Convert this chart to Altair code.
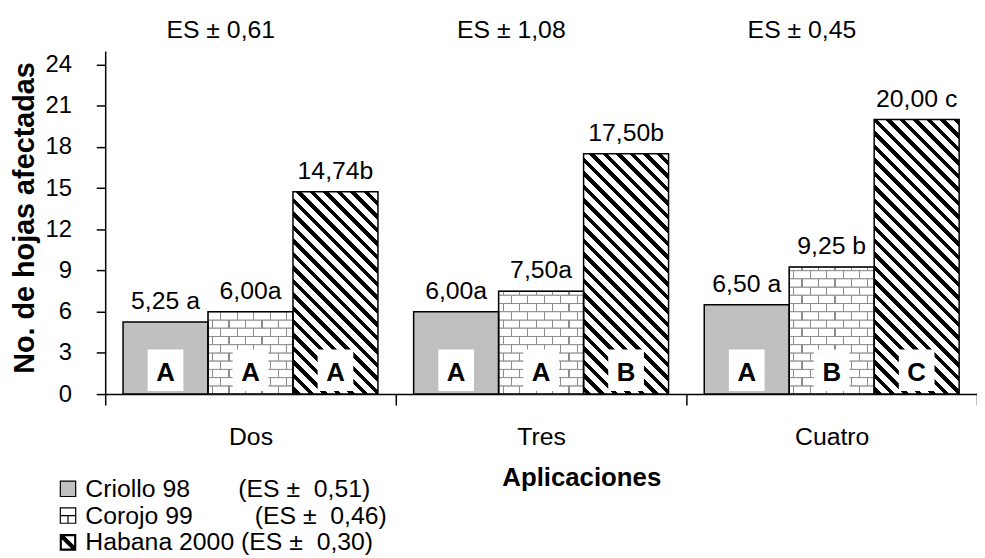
import math
import altair as alt
import pandas as pd

# ---------------- data ----------------
apps = ["Dos", "Tres", "Cuatro"]
series = ["Criollo 98", "Corojo 99", "Habana 2000"]
criollo_values = [5.25, 6.00, 6.50]
corojo_values = [6.00, 7.50, 9.25]
habana_values = [14.74, 17.50, 20.00]
criollo_labels = ["5,25 a", "6,00a", "6,50 a"]
corojo_labels = ["6,00a", "7,50a", "9,25 b"]
habana_labels = ["14,74b", "17,50b", "20,00 c"]
criollo_letters = ["A", "A", "A"]
corojo_letters = ["A", "A", "B"]
habana_letters = ["A", "B", "C"]
group_es = ["ES ± 0,61", "ES ± 1,08", "ES ± 0,45"]
series_es = ["0,51", "0,46", "0,30"]
y_ticks = [0, 3, 6, 9, 12, 15, 18, 21, 24]
y_title = "No. de hojas afectadas"
x_title = "Aplicaciones"

rows = []
for s, vals, labs, lets in zip(
    series,
    [criollo_values, corojo_values, habana_values],
    [criollo_labels, corojo_labels, habana_labels],
    [criollo_letters, corojo_letters, habana_letters],
):
    for a, v, l, t in zip(apps, vals, labs, lets):
        rows.append({"app": a, "series": s, "value": v, "label": l, "letter": t})
df = pd.DataFrame(rows)
es_df = pd.DataFrame({"app": apps, "es": group_es})

NB = "\u00a0"
gaps = [NB * 7, NB * 9, NB]
legend_labels = [f"{s}{g}(ES{NB}±{NB * 2}{e})" for s, g, e in zip(series, gaps, series_es)]
label_expr = (
    f"datum.label == '{series[0]}' ? '{legend_labels[0]}' : "
    f"datum.label == '{series[1]}' ? '{legend_labels[1]}' : '{legend_labels[2]}'"
)

# ---------------- geometry / style ----------------
W, H = 879, 346
YMAX = 25
PX = H / YMAX
PAD_OUT = 0.21
BAR_W = (W / 3) / (3 + 2 * PAD_OUT)
FONT = "Liberation Sans"


def band_stops(length, starts, thickness, bg, fg):
    stops = [alt.GradientStop(offset=0, color=bg)]
    last = 0.0
    for s in starts:
        a = max(s, 0.0)
        b = min(s + thickness, length)
        if b <= 0 or a >= length:
            continue
        a_o = round(max(a / length, last), 5)
        b_o = round(max(b / length, a_o), 5)
        stops += [
            alt.GradientStop(offset=a_o, color=bg),
            alt.GradientStop(offset=a_o, color=fg),
            alt.GradientStop(offset=b_o, color=fg),
            alt.GradientStop(offset=b_o, color=bg),
        ]
        last = b_o
    stops.append(alt.GradientStop(offset=1, color=bg))
    return stops


def stripe_gradient(value):
    h = value * PX
    w = BAR_W
    d = (w + h) / math.sqrt(2)
    period, thick, phase = 9.6, 3.9, 2.0
    n = int(d / period) + 2
    starts = [phase + i * period for i in range(-1, n)]
    kk = (w + h) * w * h / (w * w + h * h)
    return alt.LinearGradient(
        gradient="linear",
        stops=band_stops(d, starts, thick, "white", "black"),
        x1=0, y1=1, x2=round(kk / h, 5), y2=round(1 - kk / w, 5),
    )


def joint_gradient(phase):
    brick = 16.6
    n = int(BAR_W / brick) + 2
    starts = [phase + i * brick for i in range(-1, n)]
    return alt.LinearGradient(
        gradient="linear",
        stops=band_stops(BAR_W, starts, 1.2, "white", "#8c8c8c"),
        x1=0, y1=0, x2=1, y2=0,
    )


BRICK_ROW = 8.3 / PX

x_axis = alt.Axis(
    title=x_title, tickBand="extent", tickSize=11, tickWidth=1.5, tickColor="black",
    domainColor="black", domainWidth=1.5, labelFontSize=25, labelColor="black",
    labelPadding=20, labelAngle=0, titleFontSize=26, titleFontWeight="bold",
    titleColor="black", titleX=480, titleY=92, titleBaseline="alphabetic", grid=False,
)
y_axis = alt.Axis(
    title=y_title, values=y_ticks, tickSize=9, tickWidth=1.5, tickColor="black",
    domainColor="black", domainWidth=1.5, labelFontSize=24, labelColor="black",
    labelPadding=25, titleFontSize=29, titleFontWeight="bold", titleColor="black",
    titleX=-72, titleY=168, titleBaseline="alphabetic", titleAngle=270, grid=False,
)
y_scale = alt.Scale(domain=[0, YMAX], nice=False)

X = alt.X("app:N", sort=apps, scale=alt.Scale(paddingInner=0, paddingOuter=0), axis=x_axis)
XO = alt.XOffset("series:N", sort=series,
                 scale=alt.Scale(domain=series, paddingInner=0, paddingOuter=PAD_OUT))
Yv = alt.Y("value:Q", scale=y_scale, axis=y_axis)

layers = []

# Criollo bars
layers.append(
    alt.Chart(df).transform_filter(alt.datum.series == series[0])
    .mark_bar(fill="#c0c0c0").encode(x=X, xOffset=XO, y=Yv)
)

# Corojo brick rows
bricks = (
    alt.Chart(df).transform_filter(alt.datum.series == series[1])
    .transform_calculate(row=f"sequence(0, ceil(datum.value / {BRICK_ROW}))")
    .transform_flatten(["row"])
    .transform_calculate(
        y0=f"datum.row * {BRICK_ROW}",
        y1=f"min((datum.row + 1) * {BRICK_ROW}, datum.value)",
        parity="datum.row % 2",
    )
    .transform_filter("datum.y1 - datum.y0 > 0.01")
)
for par, ph in [(0, 4.0), (1, 4.0 + 8.3)]:
    layers.append(
        bricks.transform_filter(f"datum.parity == {par}")
        .mark_bar(fill=joint_gradient(ph), stroke="#8c8c8c", strokeWidth=1)
        .encode(x=X, xOffset=XO, y=alt.Y("y0:Q", scale=y_scale, axis=y_axis), y2="y1:Q")
    )

# Habana striped bars (one gradient per bar)
for a, v in zip(apps, habana_values):
    layers.append(
        alt.Chart(df)
        .transform_filter((alt.datum.series == series[2]) & (alt.datum.app == a))
        .mark_bar(fill=stripe_gradient(v)).encode(x=X, xOffset=XO, y=Yv)
    )

# outlines
layers.append(
    alt.Chart(df).mark_bar(fill="transparent", stroke="black", strokeWidth=1.5)
    .encode(x=X, xOffset=XO, y=Yv)
)

# white boxes for letters
layers.append(
    alt.Chart(df).mark_bar(fill="white", width=36)
    .encode(x=X, xOffset=XO,
            y=alt.Y(datum=0.22, type="quantitative", scale=y_scale, axis=y_axis),
            y2=alt.Y2(datum=3.25))
)

# letters
layers.append(
    alt.Chart(df).mark_text(fontSize=26, fontWeight="bold", color="black", dy=-13,
                            baseline="alphabetic")
    .encode(x=X, xOffset=XO,
            y=alt.Y(datum=0, type="quantitative", scale=y_scale, axis=y_axis),
            text="letter:N")
)

# value labels
layers.append(
    alt.Chart(df).mark_text(fontSize=25, color="black", dy=-13, baseline="alphabetic")
    .encode(x=X, xOffset=XO, y=Yv, text="label:N")
)

# ES per group
layers.append(
    alt.Chart(es_df).mark_text(fontSize=25, color="black", dx=-30, baseline="alphabetic")
    .encode(x=X, y=alt.value(-13), text="es:N")
)

# legend source (invisible points)
CORO_PATH = "M-1,-1H1V1H-1Z M-1,0H1 M0,0V1"
HAB_PATH = ("M-1,-1H1V1H-1Z M0.88,0.6L0.88,-0.88L-0.6,-0.88Z "
            "M-0.88,-0.6L-0.88,0.88L0.6,0.88Z")
leg = alt.Legend(
    title=None, orient="none", legendX=-50, legendY=429, labelFontSize=25,
    labelColor="black", labelExpr=label_expr, labelOffset=5, labelLimit=600,
    symbolSize=240, symbolStrokeWidth=1.2,
    symbolOpacity=1, rowPadding=1, padding=0, direction="vertical",
)
layers.append(
    alt.Chart(df).mark_point(filled=False, opacity=0, strokeWidth=1.2)
    .encode(
        x=X, xOffset=XO, y=Yv,
        fill=alt.Fill("series:N", sort=series,
                      scale=alt.Scale(domain=series, range=["#c0c0c0", "white", "black"]),
                      legend=leg),
        stroke=alt.Stroke("series:N", sort=series,
                          scale=alt.Scale(domain=series, range=["black", "black", "black"]),
                          legend=leg),
        shape=alt.Shape("series:N", sort=series,
                        scale=alt.Scale(domain=series, range=["square", CORO_PATH, HAB_PATH]),
                        legend=leg),
    )
)

chart = (
    alt.layer(*layers)
    .properties(
        width=W, height=H,
        autosize=alt.AutoSizeParams(type="none"),
        padding={"left": 98, "top": 41, "right": 0, "bottom": 163},
    )
    .configure(font=FONT)
    .configure_view(strokeWidth=0)
)

chart.save("out.html", embed_options={"renderer": "svg", "actions": False})
